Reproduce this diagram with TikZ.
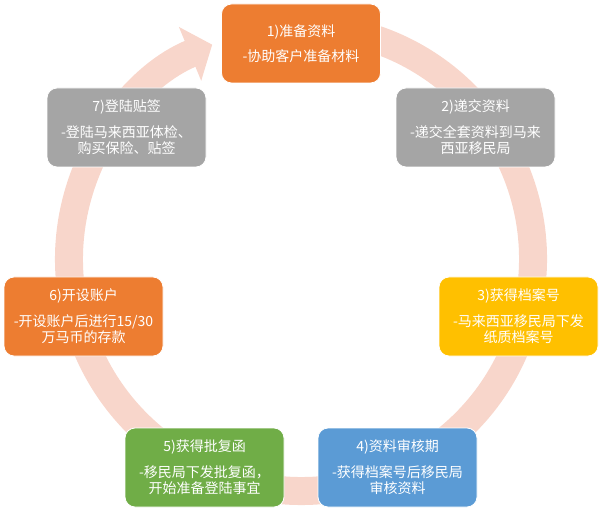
\documentclass[tikz,border=0pt]{standalone}
\usepackage{fontspec}
\newfontfamily\cjk{Noto Sans CJK SC}
\usetikzlibrary{arrows.meta}
\definecolor{ringc}{HTML}{F8D6CB}
\definecolor{boxorange}{HTML}{ED7D31}
\definecolor{boxgray}{HTML}{A5A5A5}
\definecolor{boxyellow}{HTML}{FFC000}
\definecolor{boxblue}{HTML}{5B9BD5}
\definecolor{boxgreen}{HTML}{70AD47}
\begin{document}
\begin{tikzpicture}[x=1pt,y=1pt,
  stepbox/.style={rounded corners=10pt, draw=white, line width=0.8pt,
    minimum width=159pt, minimum height=79pt, inner sep=0pt, text=white,
    align=center, font=\cjk\fontsize{14}{16.5}\selectfont},
  ring/.style={draw=ringc, line width=28pt, line cap=butt,
    -{Triangle[width=57pt,length=24pt]}}]
\useasboundingbox (0,0) rectangle (604,514);
\coordinate (ctr) at (301,255);
\coordinate (ringstart) at ([shift={(80:232pt)}]ctr);
\draw[ring] (ringstart) arc[start angle=80,end angle=-247.5,radius=232pt];
\node[stepbox, fill=boxorange] (s1) at (301,470.5) {1)准备资料\\[9pt]-协助客户准备材料};
\node[stepbox, fill=boxgray] (s2) at (475.5,386.5) {2)递交资料\\[9pt]-递交全套资料到马来\\西亚移民局};
\node[stepbox, fill=boxyellow] (s3) at (518.5,197.5) {3)获得档案号\\[9pt]-马来西亚移民局下发\\纸质档案号};
\node[stepbox, fill=boxblue] (s4) at (397.5,46.5) {4)资料审核期\\[9pt]-获得档案号后移民局\\审核资料};
\node[stepbox, fill=boxgreen] (s5) at (204.5,46.5) {5)获得批复函\\[9pt]-移民局下发批复函，\\开始准备登陆事宜};
\node[stepbox, fill=boxorange] (s6) at (83.5,197.5) {6)开设账户\\[9pt]-开设账户后进行15/30\\万马币的存款};
\node[stepbox, fill=boxgray] (s7) at (126.5,386.5) {7)登陆贴签\\[9pt]-登陆马来西亚体检、\\购买保险、贴签};
\end{tikzpicture}
\end{document}
